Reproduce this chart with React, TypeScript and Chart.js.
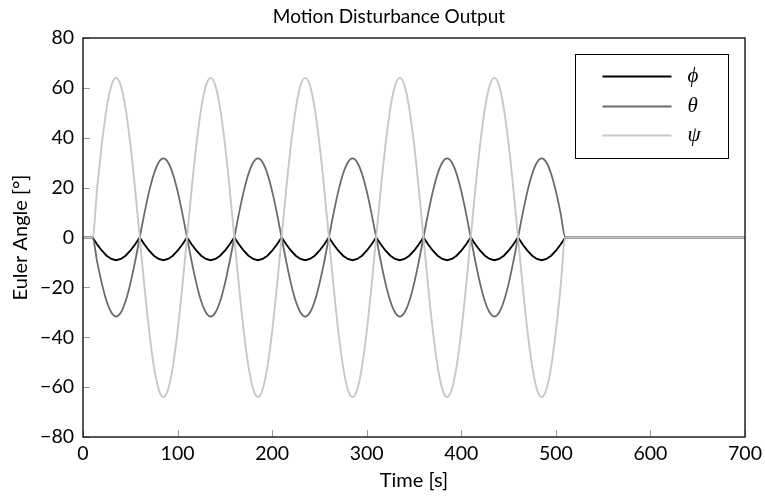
import { useEffect, useRef } from 'react';
import { Chart, registerables } from 'chart.js';

Chart.register(...registerables);

// Time samples [s]
const time = [
  0,
  10, 15, 20, 25, 30, 35, 40, 45, 50, 55,
  60, 65, 70, 75, 80, 85, 90, 95, 100, 105,
  110, 115, 120, 125, 130, 135, 140, 145, 150, 155,
  160, 165, 170, 175, 180, 185, 190, 195, 200, 205,
  210, 215, 220, 225, 230, 235, 240, 245, 250, 255,
  260, 265, 270, 275, 280, 285, 290, 295, 300, 305,
  310, 315, 320, 325, 330, 335, 340, 345, 350, 355,
  360, 365, 370, 375, 380, 385, 390, 395, 400, 405,
  410, 415, 420, 425, 430, 435, 440, 445, 450, 455,
  460, 465, 470, 475, 480, 485, 490, 495, 500, 505,
  510, 700,
];

// phi [deg]
const phi = [
  0,
  0, -2.8, -5.3, -7.3, -8.6, -9.1, -8.6, -7.3, -5.3, -2.8,
  0, -2.8, -5.3, -7.3, -8.6, -9.1, -8.6, -7.3, -5.3, -2.8,
  0, -2.8, -5.3, -7.3, -8.6, -9.1, -8.6, -7.3, -5.3, -2.8,
  0, -2.8, -5.3, -7.3, -8.6, -9.1, -8.6, -7.3, -5.3, -2.8,
  0, -2.8, -5.3, -7.3, -8.6, -9.1, -8.6, -7.3, -5.3, -2.8,
  0, -2.8, -5.3, -7.3, -8.6, -9.1, -8.6, -7.3, -5.3, -2.8,
  0, -2.8, -5.3, -7.3, -8.6, -9.1, -8.6, -7.3, -5.3, -2.8,
  0, -2.8, -5.3, -7.3, -8.6, -9.1, -8.6, -7.3, -5.3, -2.8,
  0, -2.8, -5.3, -7.3, -8.6, -9.1, -8.6, -7.3, -5.3, -2.8,
  0, -2.8, -5.3, -7.3, -8.6, -9.1, -8.6, -7.3, -5.3, -2.8,
  0, 0,
];

// theta [deg]
const theta = [
  0,
  0, -9.8, -18.6, -25.6, -30.1, -31.7, -30.1, -25.6, -18.6, -9.8,
  0, 9.8, 18.6, 25.6, 30.1, 31.7, 30.1, 25.6, 18.6, 9.8,
  0, -9.8, -18.6, -25.6, -30.1, -31.7, -30.1, -25.6, -18.6, -9.8,
  0, 9.8, 18.6, 25.6, 30.1, 31.7, 30.1, 25.6, 18.6, 9.8,
  0, -9.8, -18.6, -25.6, -30.1, -31.7, -30.1, -25.6, -18.6, -9.8,
  0, 9.8, 18.6, 25.6, 30.1, 31.7, 30.1, 25.6, 18.6, 9.8,
  0, -9.8, -18.6, -25.6, -30.1, -31.7, -30.1, -25.6, -18.6, -9.8,
  0, 9.8, 18.6, 25.6, 30.1, 31.7, 30.1, 25.6, 18.6, 9.8,
  0, -9.8, -18.6, -25.6, -30.1, -31.7, -30.1, -25.6, -18.6, -9.8,
  0, 9.8, 18.6, 25.6, 30.1, 31.7, 30.1, 25.6, 18.6, 9.8,
  0, 0,
];

// psi [deg]
const psi = [
  0,
  0, 19.8, 37.6, 51.8, 60.9, 64, 60.9, 51.8, 37.6, 19.8,
  0, -19.8, -37.6, -51.8, -60.9, -64, -60.9, -51.8, -37.6, -19.8,
  0, 19.8, 37.6, 51.8, 60.9, 64, 60.9, 51.8, 37.6, 19.8,
  0, -19.8, -37.6, -51.8, -60.9, -64, -60.9, -51.8, -37.6, -19.8,
  0, 19.8, 37.6, 51.8, 60.9, 64, 60.9, 51.8, 37.6, 19.8,
  0, -19.8, -37.6, -51.8, -60.9, -64, -60.9, -51.8, -37.6, -19.8,
  0, 19.8, 37.6, 51.8, 60.9, 64, 60.9, 51.8, 37.6, 19.8,
  0, -19.8, -37.6, -51.8, -60.9, -64, -60.9, -51.8, -37.6, -19.8,
  0, 19.8, 37.6, 51.8, 60.9, 64, 60.9, 51.8, 37.6, 19.8,
  0, -19.8, -37.6, -51.8, -60.9, -64, -60.9, -51.8, -37.6, -19.8,
  0, 0,
];

const xTicks = [0, 100, 200, 300, 400, 500, 600, 700];
const yTicks = [-80, -60, -40, -20, 0, 20, 40, 60, 80];
const seriesLabels = ['\u03D5', '\u03B8', '\u03C8'];
const seriesColors = ['#000000', '#6b6b6b', '#c8c8c8'];

const FONT = 'Lato, "Open Sans", "DejaVu Sans", sans-serif';
const MATH_FONT = '"Liberation Serif", "DejaVu Serif", serif';

const fmt = (v: number) => (v < 0 ? '\u2212' + Math.abs(v) : String(v));

const framePlugin = {
  id: 'frameAndLegend',
  afterDatasetsDraw(chart: any) {
    const { ctx, chartArea: a, scales } = chart;
    ctx.save();
    // inward tick marks
    ctx.strokeStyle = '#9a9a9a';
    ctx.lineWidth = 1;
    ctx.beginPath();
    for (const v of xTicks) {
      const px = Math.round(scales.x.getPixelForValue(v)) + 0.5;
      ctx.moveTo(px, a.bottom);
      ctx.lineTo(px, a.bottom - 7);
    }
    for (const v of yTicks) {
      const py = Math.round(scales.y.getPixelForValue(v)) + 0.5;
      ctx.moveTo(a.left, py);
      ctx.lineTo(a.left + 7, py);
    }
    ctx.stroke();
    // frame
    ctx.strokeStyle = '#000';
    ctx.lineWidth = 1.3;
    ctx.strokeRect(a.left, a.top, a.right - a.left, a.bottom - a.top);

    // legend box
    const bw = 153;
    const bh = 104;
    const bx = Math.round(a.right - 17 - bw) + 0.5;
    const by = Math.round(a.top + 16) + 0.5;
    ctx.fillStyle = '#fff';
    ctx.fillRect(bx, by, bw, bh);
    ctx.strokeStyle = '#000';
    ctx.lineWidth = 1;
    ctx.strokeRect(bx, by, bw, bh);
    const rows = [22, 52, 81];
    chart.data.datasets.forEach((ds: any, i: number) => {
      const y = by + rows[i];
      ctx.strokeStyle = ds.borderColor;
      ctx.lineWidth = 2;
      ctx.beginPath();
      ctx.moveTo(bx + 27, y);
      ctx.lineTo(bx + 96, y);
      ctx.stroke();
      ctx.fillStyle = '#000';
      ctx.font = 'italic 21px ' + MATH_FONT;
      ctx.textAlign = 'left';
      ctx.textBaseline = 'middle';
      ctx.fillText(ds.label, bx + 112, y);
    });
    ctx.restore();
  },
};

export default function App() {
  const ref = useRef<HTMLCanvasElement | null>(null);

  useEffect(() => {
    if (!ref.current) return;
    const mk = (ys: number[]) => time.map((t, i) => ({ x: t, y: ys[i] }));
    const chart = new Chart(ref.current, {
      type: 'line',
      data: {
        datasets: [
          {
            label: seriesLabels[0],
            data: mk(phi),
            borderColor: seriesColors[0],
            borderWidth: 1.9,
            pointRadius: 0,
            tension: 0,
            fill: false,
            order: 2,
          },
          {
            label: seriesLabels[1],
            data: mk(theta),
            borderColor: seriesColors[1],
            borderWidth: 1.8,
            pointRadius: 0,
            cubicInterpolationMode: 'monotone',
            fill: false,
            order: 1,
          },
          {
            label: seriesLabels[2],
            data: mk(psi),
            borderColor: seriesColors[2],
            borderWidth: 1.9,
            pointRadius: 0,
            cubicInterpolationMode: 'monotone',
            fill: false,
            order: 0,
          },
        ],
      },
      options: {
        responsive: false,
        animation: false,
        events: [],
        color: '#000',
        layout: { padding: { left: 33, right: 20, top: 0, bottom: 0 } },
        plugins: {
          legend: { display: false },
          tooltip: { enabled: false },
          title: {
            display: true,
            text: 'Motion Disturbance Output',
            color: '#000',
            font: { family: FONT, size: 19, weight: 'normal', lineHeight: 1.2 },
            padding: { top: 5, bottom: 10.2 },
          },
        },
        scales: {
          x: {
            type: 'linear',
            min: 0,
            max: 700,
            grid: { display: false, drawTicks: false },
            border: { display: false },
            ticks: {
              color: '#000',
              padding: 5,
              autoSkip: false,
              maxRotation: 0,
              font: { family: FONT, size: 19.5, lineHeight: 1.2 },
              callback: (v: any) => fmt(Number(v)),
            },
            afterBuildTicks: (s: any) => {
              s.ticks = xTicks.map((v) => ({ value: v }));
            },
            afterFit: (s: any) => {
              s.height = 60;
              s.paddingLeft = 0;
              s.paddingRight = 0;
            },
            title: {
              display: true,
              text: 'Time [s]',
              color: '#000',
              font: { family: FONT, size: 20, lineHeight: 1.2 },
              padding: { top: 0, bottom: 4.5 },
            },
          },
          y: {
            type: 'linear',
            min: -80,
            max: 80,
            grid: { display: false, drawTicks: false },
            border: { display: false },
            ticks: {
              color: '#000',
              padding: 9,
              autoSkip: false,
              font: { family: FONT, size: 19.5, lineHeight: 1.2 },
              callback: (v: any) => fmt(Number(v)),
            },
            afterBuildTicks: (s: any) => {
              s.ticks = yTicks.map((v) => ({ value: v }));
            },
            afterFit: (s: any) => {
              s.width = 50;
              s.paddingTop = 0;
              s.paddingBottom = 0;
            },
            title: {
              display: true,
              text: 'Euler Angle [\u00B0]',
              color: '#000',
              font: { family: FONT, size: 20, lineHeight: 1.2 },
              padding: { top: -24, bottom: 0 },
            },
          },
        },
      },
      plugins: [framePlugin],
    } as any);
    return () => chart.destroy();
  }, []);

  return (
    <div style={{ position: 'absolute', left: 0, top: 0, width: 765, height: 497 }}>
      <canvas ref={ref} width={765} height={497} style={{ display: 'block', width: 765, height: 497 }} />
    </div>
  );
}
